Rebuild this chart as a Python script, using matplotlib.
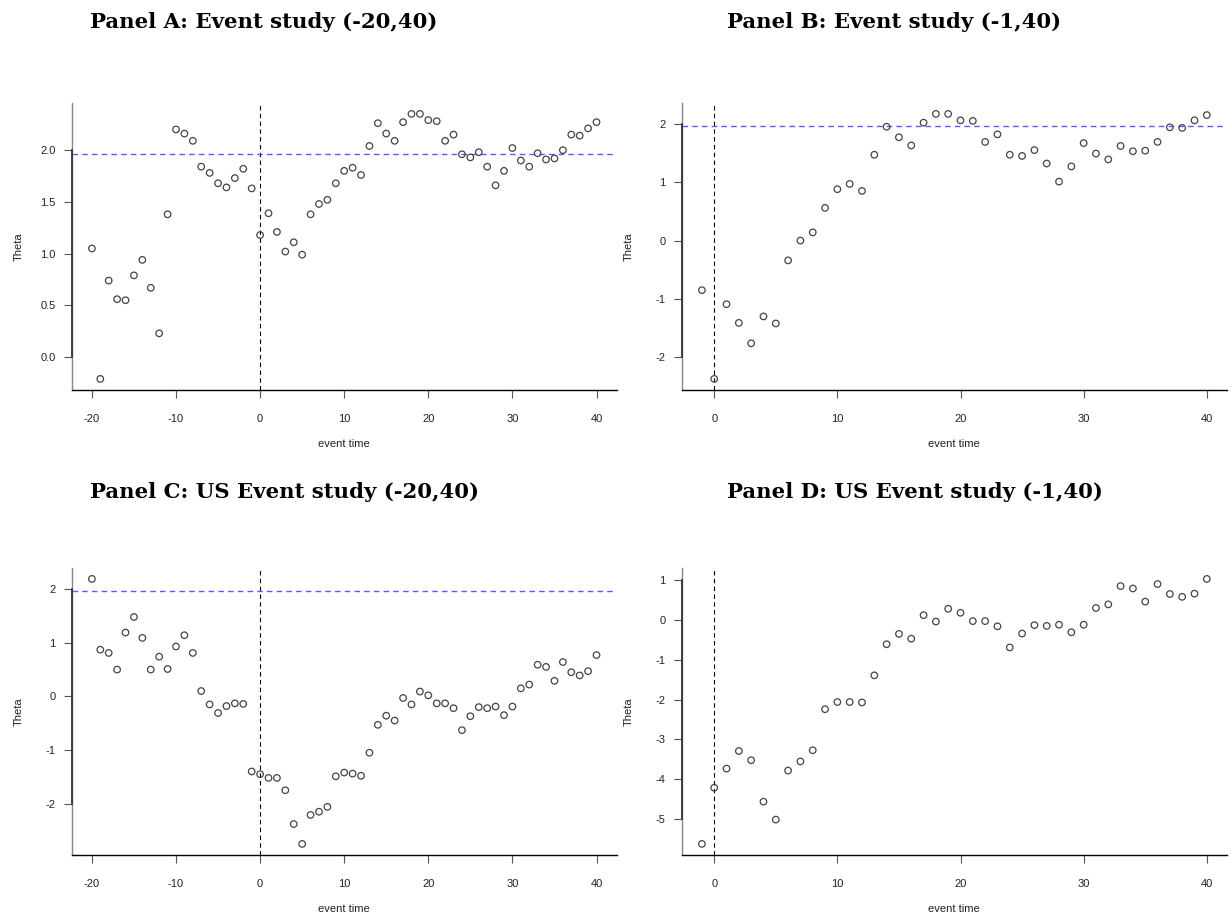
import matplotlib
matplotlib.use("Agg")
import matplotlib.pyplot as plt
import numpy as np

plt.rcParams["axes.unicode_minus"] = False

# Event-study estimates (theta) by event time
time_a = list(range(-20, 41))
theta_a = [1.05, -0.21, 0.74, 0.56, 0.55, 0.79, 0.94, 0.67, 0.23, 1.38,
           2.20, 2.16, 2.09, 1.84, 1.78, 1.68, 1.64, 1.73, 1.82, 1.63,
           1.18, 1.39, 1.21, 1.02, 1.11, 0.99, 1.38, 1.48, 1.52, 1.68,
           1.80, 1.83, 1.76, 2.04, 2.26, 2.16, 2.09, 2.27, 2.35, 2.35,
           2.29, 2.28, 2.09, 2.15, 1.96, 1.93, 1.98, 1.84, 1.66, 1.80,
           2.02, 1.90, 1.84, 1.97, 1.91, 1.92, 2.00, 2.15, 2.14, 2.21,
           2.27]

time_b = list(range(-1, 41))
theta_b = [-0.85, -2.37, -1.09, -1.41, -1.76, -1.30, -1.42, -0.34, 0.00, 0.14,
           0.56, 0.88, 0.97, 0.85, 1.47, 1.95, 1.77, 1.63, 2.02, 2.17,
           2.17, 2.06, 2.05, 1.69, 1.82, 1.47, 1.45, 1.55, 1.32, 1.01,
           1.27, 1.67, 1.49, 1.39, 1.62, 1.53, 1.54, 1.69, 1.94, 1.93,
           2.06, 2.15]

time_c = list(range(-20, 41))
theta_c = [2.19, 0.87, 0.81, 0.50, 1.19, 1.48, 1.09, 0.50, 0.74, 0.51,
           0.93, 1.14, 0.81, 0.10, -0.15, -0.31, -0.18, -0.13, -0.14, -1.40,
           -1.45, -1.52, -1.52, -1.75, -2.38, -2.75, -2.21, -2.15, -2.06, -1.49,
           -1.42, -1.44, -1.48, -1.05, -0.53, -0.36, -0.45, -0.03, -0.15, 0.09,
           0.02, -0.13, -0.13, -0.22, -0.63, -0.37, -0.20, -0.22, -0.19, -0.35,
           -0.19, 0.15, 0.22, 0.59, 0.55, 0.29, 0.64, 0.45, 0.39, 0.47,
           0.77]

time_d = list(range(-1, 41))
theta_d = [-5.62, -4.21, -3.73, -3.29, -3.52, -4.56, -5.01, -3.78, -3.55, -3.27,
           -2.24, -2.06, -2.06, -2.07, -1.39, -0.61, -0.35, -0.47, 0.12, -0.04,
           0.28, 0.18, -0.03, -0.03, -0.16, -0.69, -0.34, -0.13, -0.15, -0.12,
           -0.31, -0.12, 0.30, 0.39, 0.85, 0.79, 0.46, 0.90, 0.65, 0.58,
           0.66, 1.03]

titles = ["Panel A: Event study (-20,40)", "Panel B: Event study (-1,40)",
          "Panel C: US Event study (-20,40)", "Panel D: US Event study (-1,40)"]
yticks_a = [0.0, 0.5, 1.0, 1.5, 2.0]
yticks_b = [-2, -1, 0, 1, 2]
yticks_c = [-2, -1, 0, 1, 2]
yticks_d = [-5, -4, -3, -2, -1, 0, 1]
xticks = [-20, -10, 0, 10, 20, 30, 40]
crit = 1.96

W, H = 1231, 918
fig = plt.figure(figsize=(W / 100, H / 100), dpi=100)
fig.patch.set_facecolor("white")


def rect(l, t, r, b):
    return [l / W, 1 - b / H, (r - l) / W, (b - t) / H]


def pad_range(lo, hi, f=0.04):
    d = (hi - lo) * f
    return lo - d, hi + d


tick_font = "Liberation Sans"
title_font = "DejaVu Serif"

panels = [
    (rect(71.7, 103.3, 616.7, 389.5), time_a, theta_a, yticks_a, "%.1f", titles[0], 90, 22),
    (rect(681.7, 103.3, 1227, 389.5), time_b, theta_b, yticks_b, "%d", titles[1], 727, 22),
    (rect(71.7, 568.3, 616.7, 854.5), time_c, theta_c, yticks_c, "%d", titles[2], 90, 492),
    (rect(681.7, 568.3, 1227, 854.5), time_d, theta_d, yticks_d, "%d", titles[3], 727, 492),
]

for pos, t, th, yt, fmt, title, tx, ty in panels:
    ax = fig.add_axes(pos)
    xlo, xhi = pad_range(min(t), max(t))
    ylo, yhi = pad_range(min(th), max(th))
    ax.scatter(t, th, s=22, facecolors="none", edgecolors="#444444",
               linewidths=0.9, zorder=3)
    ax.axvline(0, color="black", ls=(0, (4, 3)), lw=0.8, zorder=2)
    ax.axhline(crit, color="#5a5aff", ls=(0, (4, 3)), lw=1.0, zorder=2)

    for side in ("top", "right"):
        ax.spines[side].set_visible(False)
    ax.spines["left"].set_color("#888888")
    ax.spines["left"].set_linewidth(1.0)
    ax.spines["bottom"].set_color("black")
    ax.spines["bottom"].set_linewidth(1.0)
    # darker axis segment between the outer y ticks
    ax.plot([0, 0], [yt[0], yt[-1]], transform=ax.get_yaxis_transform(),
            color="#333333", lw=1.3, clip_on=False, zorder=4)

    ax.set_xticks([v for v in xticks if xlo <= v <= xhi])
    ax.set_yticks(yt)
    ax.set_yticklabels([fmt % v for v in yt])
    ax.set_xlim(xlo, xhi)
    ax.set_ylim(ylo, yhi)
    ax.tick_params(axis="both", direction="out", length=5.5, width=0.8,
                   colors="#555555", labelcolor="#222222", labelsize=8)
    ax.tick_params(axis="x", pad=12)
    ax.tick_params(axis="y", pad=6)
    for lab in ax.get_xticklabels() + ax.get_yticklabels():
        lab.set_fontfamily(tick_font)

    ax.set_xlabel("event time", fontsize=8, family=tick_font, color="#222222")
    ax.set_ylabel("Theta", fontsize=8, family=tick_font, color="#222222")
    ax.xaxis.set_label_coords(0.5, -0.174)
    ax.yaxis.set_label_coords(-0.088, 0.5)

    fig.text(tx / W, 1 - ty / H, title, ha="left", va="center",
             fontsize=15.3, fontweight="bold", family=title_font)

fig.savefig("out.png", dpi=100, facecolor="white")
